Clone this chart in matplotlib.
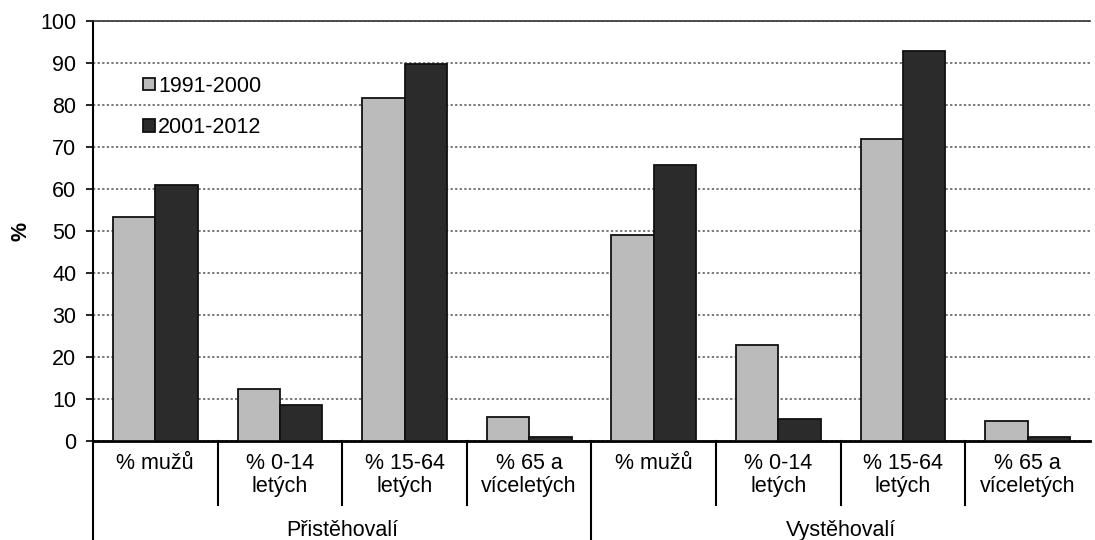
import matplotlib.pyplot as plt
import matplotlib.transforms as mtransforms
from matplotlib.patches import Patch
import numpy as np

plt.rcParams['font.family'] = ['Liberation Sans', 'DejaVu Sans']

# data
groups = ['Přistěhovalí', 'Vystěhovalí']
categories = ['% mužů', '% 0-14\nletých', '% 15-64\nletých', '% 65 a\nvíceletých']
series = ['1991-2000', '2001-2012']
vals_9100 = [53.4, 12.5, 81.6, 5.8, 49.0, 22.9, 71.9, 4.8]
vals_0112 = [61.0, 8.6, 89.8, 1.0, 65.8, 5.3, 92.9, 1.0]

light = '#bbbbbb'
dark = '#2b2b2b'
edge = '#111111'
fs = 15.5

fig = plt.figure(figsize=(10.95, 5.4), dpi=100)
ax = fig.add_axes([0.0849, 0.1833, 0.9105, 0.7778])

x = np.arange(len(vals_9100))
w = 0.34
ax.bar(x - w / 2, vals_9100, w, color=light, edgecolor=edge, linewidth=1.3, zorder=3)
ax.bar(x + w / 2, vals_0112, w, color=dark, edgecolor=edge, linewidth=1.3, zorder=3)

ax.set_xlim(-0.5, len(x) - 0.5)
ax.set_ylim(0, 100)
ax.set_yticks(np.arange(0, 101, 10))
ax.tick_params(axis='y', labelsize=fs, length=5, width=1.2, direction='out', pad=7)
ax.set_xticks([])
ax.yaxis.grid(True, linestyle=(0, (1.5, 1.5)), color='#555555', linewidth=1.1)
ax.set_axisbelow(True)

ax.spines['right'].set_visible(False)
ax.spines['top'].set_linewidth(1.2)
ax.spines['top'].set_color('#333333')
ax.spines['left'].set_linewidth(1.5)
ax.spines['bottom'].set_linewidth(2)

ax.set_ylabel('%', fontsize=fs, fontweight='bold', labelpad=6)

# category and group labels below the axis
trans = mtransforms.blended_transform_factory(ax.transData, ax.transAxes)
labels = categories * len(groups)
for i, lab in enumerate(labels):
    ax.text(i, -0.028, lab, transform=trans, ha='center', va='top',
            fontsize=fs, linespacing=1.15)
for i in range(1, len(labels)):
    bottom = -0.26 if i % len(categories) == 0 else -0.152
    ax.plot([i - 0.5, i - 0.5], [0, bottom], transform=trans, color='black',
            linewidth=1.5, clip_on=False)
ax.plot([-0.5, -0.5], [0, -0.26], transform=trans, color='black',
        linewidth=1.5, clip_on=False)
for g, name in enumerate(groups):
    c = g * len(categories) + (len(categories) - 1) / 2
    ax.text(c, -0.212, name, transform=trans, ha='center', va='center', fontsize=fs)

handles = [Patch(facecolor=light, edgecolor=edge, linewidth=1.3),
           Patch(facecolor=dark, edgecolor=edge, linewidth=1.3)]
ax.legend(handles, series, loc='upper left', bbox_to_anchor=(0.05, 0.87),
          frameon=False, fontsize=fs, handlelength=0.55, handleheight=0.55,
          handletextpad=0.15, labelspacing=0.95, borderpad=0, borderaxespad=0)

fig.savefig('out.png', dpi=100)
